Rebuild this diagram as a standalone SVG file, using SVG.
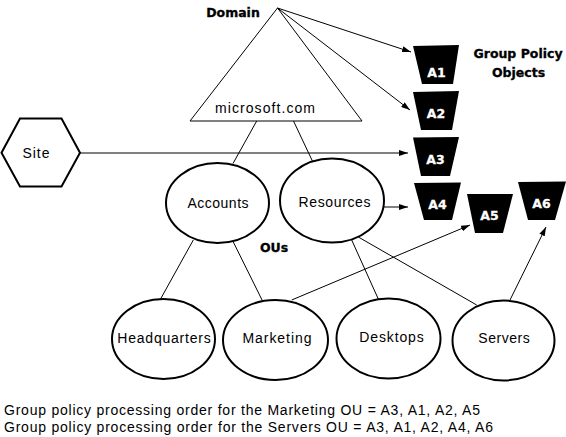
<svg xmlns="http://www.w3.org/2000/svg" width="566" height="437" viewBox="0 0 566 437">
<style>
.bg{fill:#fff}
.ln{stroke:#000;stroke-width:1;fill:none}
.ou{stroke:#000;stroke-width:2;fill:#fff}
.tri{stroke:#000;stroke-width:1;fill:#fff}
.gpo{fill:#000}
.t{font-family:"Liberation Sans",Arial,sans-serif;font-size:14px;fill:#000;text-anchor:middle}
.b{font-family:"DejaVu Sans",sans-serif;font-weight:bold;font-size:12.5px;fill:#000;stroke:#000;stroke-width:0.3;text-anchor:middle}
.g{font-family:"DejaVu Sans",sans-serif;font-weight:bold;font-size:12.5px;fill:#fff;stroke:#fff;stroke-width:0.3;text-anchor:middle}
.note{font-family:"Liberation Sans",Arial,sans-serif;font-size:14px;fill:#000}
</style>
<defs>
<marker id="ah" markerUnits="userSpaceOnUse" markerWidth="9" markerHeight="6" refX="9" refY="3" orient="auto">
<path d="M0,0 L9,3 L0,6 Z" fill="#000"/>
</marker>
</defs>
<rect class="bg" x="0" y="0" width="566" height="437"/>

<g id="domain">
<polygon class="tri" points="277.5,8 190,121 362,121"/>
<text class="b" x="233" y="17">Domain</text>
<text class="t" x="265" y="113" textLength="100" lengthAdjust="spacing">microsoft.com</text>
</g>

<g id="connectors">
<line class="ln" x1="277.5" y1="8" x2="411" y2="52" marker-end="url(#ah)"/>
<line class="ln" x1="277.5" y1="8" x2="410" y2="110" marker-end="url(#ah)"/>
<line class="ln" x1="80" y1="153" x2="408" y2="153" marker-end="url(#ah)"/>
<line class="ln" x1="384" y1="207" x2="408" y2="207" marker-end="url(#ah)"/>
<line class="ln" x1="256.7" y1="121" x2="233" y2="163.5"/>
<line class="ln" x1="293.5" y1="121" x2="315" y2="166.5"/>
<line class="ln" x1="193.3" y1="240" x2="160" y2="300"/>
<line class="ln" x1="233.3" y1="242" x2="262.3" y2="300.5"/>
<line class="ln" x1="351.7" y1="240" x2="378.3" y2="299"/>
<line class="ln" x1="358.3" y1="237" x2="476.7" y2="305"/>
<line class="ln" x1="291.7" y1="300" x2="470" y2="225" marker-end="url(#ah)"/>
<line class="ln" x1="510" y1="300" x2="546" y2="227" marker-end="url(#ah)"/>
</g>

<g id="site">
<polygon class="ou" points="1.5,152.7 20,118.5 61.5,118.5 80,152.7 61.5,186.5 20,186.5"/>
<text class="t" x="36" y="158" textLength="27" lengthAdjust="spacing">Site</text>
</g>

<g id="accounts">
<ellipse class="ou" cx="217.5" cy="203" rx="51.5" ry="40"/>
<text class="t" x="218" y="208" textLength="61" lengthAdjust="spacing">Accounts</text>
</g>
<g id="resources">
<ellipse class="ou" cx="332" cy="200.5" rx="52" ry="42"/>
<text class="t" x="334.5" y="206.5" textLength="72" lengthAdjust="spacing">Resources</text>
</g>
<g id="ous-label">
<text class="b" x="274" y="252">OUs</text>
</g>

<g id="headquarters">
<ellipse class="ou" cx="163.5" cy="339" rx="51.5" ry="40"/>
<text class="t" x="164" y="343" textLength="93.5" lengthAdjust="spacing">Headquarters</text>
</g>
<g id="marketing">
<ellipse class="ou" cx="275.5" cy="340" rx="52.5" ry="40"/>
<text class="t" x="277" y="343" textLength="69" lengthAdjust="spacing">Marketing</text>
</g>
<g id="desktops">
<ellipse class="ou" cx="388.5" cy="338.5" rx="52" ry="40"/>
<text class="t" x="391.5" y="342" textLength="64.5" lengthAdjust="spacing">Desktops</text>
</g>
<g id="servers">
<ellipse class="ou" cx="503.5" cy="340.5" rx="51" ry="40"/>
<text class="t" x="504" y="343" textLength="51.5" lengthAdjust="spacing">Servers</text>
</g>

<g id="gpo-label">
<text class="b" x="518" y="58">Group Policy</text>
<text class="b" x="518.5" y="77">Objects</text>
</g>

<g id="a1">
<polygon class="gpo" points="413,46 459,45 453,84 422,84"/>
<text class="g" x="436.5" y="76.5">A1</text>
</g>
<g id="a2">
<polygon class="gpo" points="413,92 459,91 452,130 421,130"/>
<text class="g" x="436" y="117.5">A2</text>
</g>
<g id="a3">
<polygon class="gpo" points="413,137.5 459,137 450,176 421,176"/>
<text class="g" x="435.5" y="163.5">A3</text>
</g>
<g id="a4">
<polygon class="gpo" points="414,183 461,182.5 452,220 424,220"/>
<text class="g" x="437.5" y="208.5">A4</text>
</g>
<g id="a5">
<polygon class="gpo" points="467,194 513,194 503,233 475,233"/>
<text class="g" x="489.5" y="219.5">A5</text>
</g>
<g id="a6">
<polygon class="gpo" points="518,182 566,181.5 555,220 528,220"/>
<text class="g" x="541.5" y="208">A6</text>
</g>

<g id="notes">
<text class="note" x="4" y="415" textLength="476" lengthAdjust="spacing">Group policy processing order for the Marketing OU = A3, A1, A2, A5</text>
<text class="note" x="4" y="431.5" textLength="489" lengthAdjust="spacing">Group policy processing order for the Servers OU = A3, A1, A2, A4, A6</text>
</g>
</svg>
